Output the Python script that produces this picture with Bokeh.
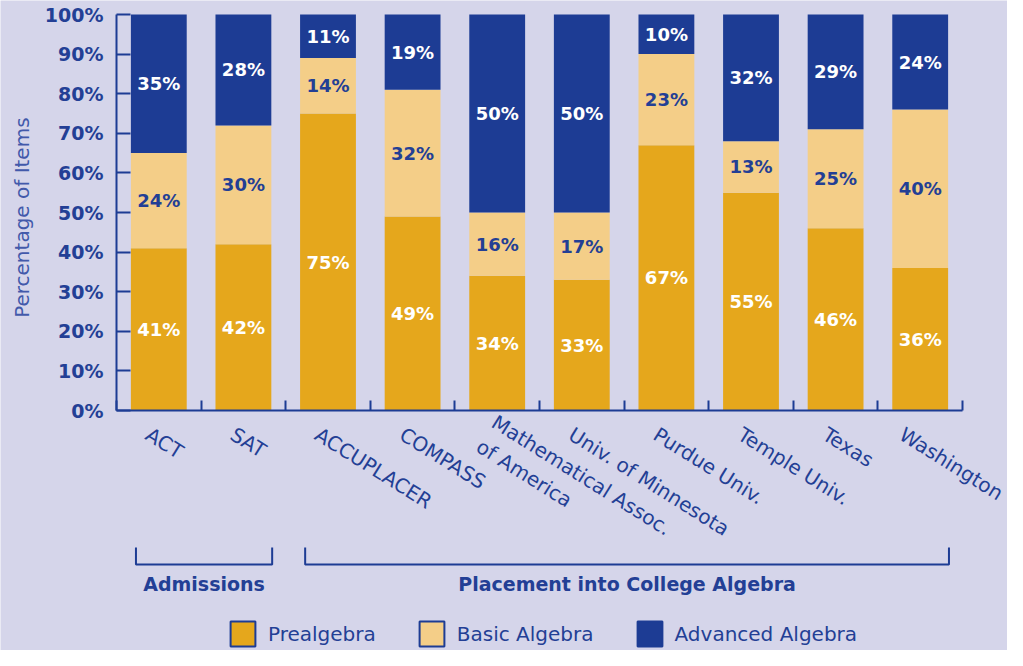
import math
from bokeh.plotting import figure
from bokeh.models import (Range1d, FixedTicker, LinearAxis, ColumnDataSource,
                          Legend, LegendItem)
from bokeh.core.properties import value
from bokeh.embed import file_html
from bokeh.resources import INLINE

# ---------------- data ----------------
categories = ["ACT", "SAT", "ACCUPLACER", "COMPASS",
              "Mathematical Assoc.\nof America", "Univ. of Minnesota",
              "Purdue Univ.", "Temple Univ.", "Texas", "Washington"]
prealgebra = [41, 42, 75, 49, 34, 33, 67, 55, 46, 36]
basic_algebra = [24, 30, 14, 32, 16, 17, 23, 13, 25, 40]
advanced_algebra = [35, 28, 11, 19, 50, 50, 10, 32, 29, 24]
series_names = ["Prealgebra", "Basic Algebra", "Advanced Algebra"]
y_ticks = [0, 10, 20, 30, 40, 50, 60, 70, 80, 90, 100]
y_tick_labels = ["0%", "10%", "20%", "30%", "40%", "50%", "60%", "70%", "80%", "90%", "100%"]
y_title = "Percentage of Items"
groups = ["Admissions", "Placement into College Algebra"]
group_first = [0, 2]
group_last = [1, 9]

# ---------------- style ----------------
BG = "#d5d5ea"
NAVY = "#1d3c94"
GOLD = "#e5a71c"
LIGHT = "#f4ce88"
TXT = "#233f95"
TXT2 = "#4259aa"
FONT = "DejaVu Sans"
series_colors = [GOLD, LIGHT, NAVY]
label_colors = ["white", TXT, "white"]

W, H = 1007, 650
AXIS_X_PX, TOP_PX = 116, 14   # pixel column of the value axis, pixel row of 100%
ZERO_PX = 410                 # pixel row of the 0% line
PX_PER_UNIT = (ZERO_PX - TOP_PX) / 100.0
PX_PER_CAT = 84.6
n = len(categories)
x_start = -AXIS_X_PX / PX_PER_CAT
x_end = (W - AXIS_X_PX) / PX_PER_CAT
y_bottom = -(H - ZERO_PX) / PX_PER_UNIT
y_top = 100 + TOP_PX / PX_PER_UNIT
BAR_W = 0.66
LABEL_SHIFT = 0.13

p = figure(width=W, height=H, x_range=Range1d(x_start, x_end), y_range=Range1d(y_bottom, y_top),
           output_backend="svg", toolbar_location=None,
           x_axis_location=None, y_axis_location=None,
           min_border=0, min_border_left=0, min_border_right=0, min_border_top=0,
           min_border_bottom=0,
           background_fill_color=BG, border_fill_color=BG, outline_line_color=None)
p.xgrid.visible = False
p.ygrid.visible = False

# ---------------- bars ----------------
xs = [i + 0.5 for i in range(n)]
src = ColumnDataSource(dict(x=xs, Prealgebra=prealgebra, **{"Basic Algebra": basic_algebra},
                            **{"Advanced Algebra": advanced_algebra}))
p.vbar_stack(series_names, x="x", width=BAR_W, source=src,
             fill_color=series_colors, line_color=None)
legend_rs = p.vbar_stack(series_names, x="x", width=BAR_W, source=src,
                         fill_color=series_colors, line_color=NAVY, line_width=2)
for r in legend_rs:
    r.visible = False

# bar value labels
lx, ly, lt, lc = [], [], [], []
for i in range(n):
    bottom = 0
    for vals, col in zip([prealgebra, basic_algebra, advanced_algebra], label_colors):
        v = vals[i]
        lx.append(xs[i]); ly.append(bottom + v / 2); lt.append(f"{v}%"); lc.append(col)
        bottom += v
p.text(x=lx, y=ly, text=lt, text_color=lc, text_align="center", text_baseline="middle",
       text_font=value(FONT), text_font_style="bold", text_font_size="18px")

# ---------------- axes ----------------
ya = LinearAxis(fixed_location=0, ticker=FixedTicker(ticks=y_ticks), bounds=(0, 100),
                major_label_overrides={t: l for t, l in zip(y_ticks, y_tick_labels)},
                major_tick_in=14, major_tick_out=0, minor_tick_line_color=None,
                axis_line_color=NAVY, axis_line_width=2,
                major_tick_line_color=NAVY, major_tick_line_width=2,
                major_label_text_color=TXT, major_label_text_font=FONT,
                major_label_text_font_style="bold", major_label_text_font_size="19px",
                major_label_standoff=13)
p.add_layout(ya, "left")

# value-axis title
p.text(x=[(21 - AXIS_X_PX) / PX_PER_CAT], y=[48.7], text=[y_title], angle=math.pi / 2,
       text_align="center", text_baseline="middle", text_color=TXT2,
       text_font=value(FONT), text_font_size="20px")

boundaries = list(range(n + 1))
xa_ticks = LinearAxis(fixed_location=0, ticker=FixedTicker(ticks=boundaries), bounds=(0, n),
                      major_tick_in=10, major_tick_out=0,
                      major_label_overrides={b: "" for b in boundaries},
                      axis_line_color=NAVY, axis_line_width=2,
                      major_tick_line_color=NAVY, major_tick_line_width=2,
                      minor_tick_line_color=None)
p.add_layout(xa_ticks, "below")

label_pos = [x - LABEL_SHIFT for x in xs]
xa_labels = LinearAxis(fixed_location=0, ticker=FixedTicker(ticks=label_pos),
                       major_label_overrides={x: c for x, c in zip(label_pos, categories)},
                       axis_line_color=None, major_tick_line_color=None,
                       minor_tick_line_color=None, major_tick_in=0, major_tick_out=0,
                       major_label_orientation=-0.56, major_label_standoff=22,
                       major_label_text_color=TXT, major_label_text_font=FONT,
                       major_label_text_font_size="20px")
p.add_layout(xa_labels, "below")

# ---------------- group brackets ----------------
BR_TOP, BR_BOT, GL_Y = -34.6, -38.9, -43.9
bxs, bys, gx = [], [], []
for f, l in zip(group_first, group_last):
    x0 = xs[f] - 0.27
    x1 = xs[l] + 0.34
    bxs.append([x0, x0, x1, x1]); bys.append([BR_TOP, BR_BOT, BR_BOT, BR_TOP])
    gx.append((x0 + x1) / 2)
p.multi_line(xs=bxs, ys=bys, line_color=NAVY, line_width=2)
p.text(x=gx, y=[GL_Y] * len(groups), text=groups, text_color=TXT, text_align="center",
       text_baseline="middle", text_font=value(FONT), text_font_style="bold",
       text_font_size="19px")

# ---------------- legend ----------------
legend = Legend(items=[LegendItem(label=nm, renderers=[r]) for nm, r in zip(series_names, legend_rs)],
                orientation="horizontal", location=(227, 1),
                background_fill_alpha=0, border_line_alpha=0, padding=0, margin=0,
                spacing=40, label_standoff=10, glyph_width=31, glyph_height=31,
                label_text_font=FONT, label_text_font_size="20px", label_text_color=TXT)
p.add_layout(legend)

open("out.html", "w").write(file_html(p, INLINE))
